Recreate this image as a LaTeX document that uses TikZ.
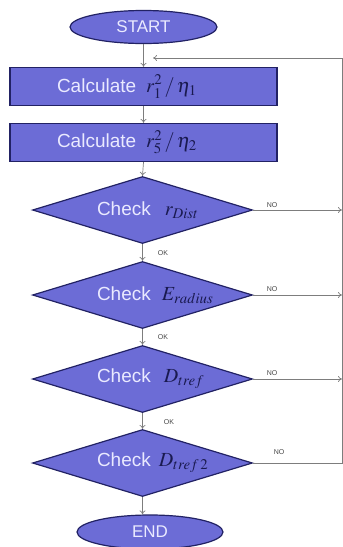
\documentclass[tikz,border=0pt]{standalone}
\usepackage{mathptmx}
\usepackage[no-math]{fontspec}
\setmainfont{Liberation Sans}
\usetikzlibrary{shapes.geometric,arrows.meta}

\definecolor{boxfill}{RGB}{108,108,214}
\definecolor{boxline}{RGB}{34,34,100}
\definecolor{boxtext}{RGB}{234,234,255}
\definecolor{mathink}{RGB}{26,26,80}
\definecolor{flowline}{RGB}{125,125,125}
\definecolor{tagink}{RGB}{70,70,70}

\tikzset{
  x=1pt, y=-1pt,
  terminal/.style={ellipse, draw=boxline, fill=boxfill, line width=1.2pt,
    text=boxtext, font=\fontsize{17}{17}\selectfont, inner sep=0pt},
  process/.style={rectangle, draw=boxline, fill=boxfill, line width=1.2pt,
    minimum width=267pt, minimum height=38pt, inner sep=0pt,
    text=boxtext, font=\fontsize{19}{19}\selectfont},
  decision/.style={diamond, aspect=3.3, draw=boxline, fill=boxfill, line width=1.2pt,
    minimum width=220pt, minimum height=67pt, inner sep=0pt,
    text=boxtext, font=\fontsize{19}{19}\selectfont},
  flow/.style={draw=flowline, line width=0.7pt, -{To[length=4pt,width=6pt]}},
  plainflow/.style={draw=flowline, line width=0.7pt},
  tag/.style={text=tagink, font=\fontsize{7}{7}\selectfont, inner sep=0pt},
}
% formula part of a box label, in dark ink
\newcommand{\mathpart}[1]{{\color{mathink}\fontsize{20}{20}\selectfont$#1$}}
% label that starts at a fixed left offset inside a box of given width
\newcommand{\leftlabel}[2]{\makebox[#1][l]{#2}}

\begin{document}
\begin{tikzpicture}
  \useasboundingbox (0,0) rectangle (343,547);

  % start / end terminals
  \node[terminal, minimum width=147pt, minimum height=33pt] (start) at (143.5,27) {START};

  % calculation steps
  \node[process] (calc1) at (143.5,86.5)
    {\leftlabel{173pt}{Calculate\hspace{10pt}\mathpart{r_1^2\,/\,\eta_1}}};
  \node[process] (calc2) at (143.5,142.5)
    {\leftlabel{173pt}{Calculate\hspace{10pt}\mathpart{r_5^2\,/\,\eta_2}}};

  % checks
  \node[decision] (chk1) at (142.5,210)
    {\leftlabel{91pt}{Check\hspace{14pt}\mathpart{r_{Dist}}}};
  \node[decision] (chk2) at (142.5,295)
    {\leftlabel{91pt}{Check\hspace{11pt}\mathpart{E_{radius}}}};
  \node[decision] (chk3) at (142.5,379)
    {\leftlabel{91pt}{Check\hspace{13pt}\mathpart{D_{tref}}}};
  \node[decision] (chk4) at (142.5,463)
    {\leftlabel{91pt}{Check\hspace{8pt}\mathpart{D_{tref\,2}}}};

  \node[terminal, minimum width=146pt, minimum height=34pt] (stop) at (150,532) {END};

  % main flow
  \draw[flow] (start.south -| calc1.north) -- (calc1.north);
  \draw[flow] (calc1) -- (calc2);
  \draw[flow] (calc2.south) -- (chk1.north);
  \draw[flow] (chk1) -- (chk2);
  \draw[flow] (chk2) -- (chk3);
  \draw[flow] (chk3) -- (chk4);
  \draw[flow] (chk4.south) -- (chk4.south |- stop.north);

  % return rail on the right
  \coordinate (rail1) at (342,210);
  \coordinate (rail2) at (342,295);
  \coordinate (rail3) at (342,379);
  \coordinate (railbot) at (342,463);
  \coordinate (railtop) at (342,58);
  \coordinate (reentry) at (153,58);

  \draw[flow] (chk1.east) -- (rail1);
  \draw[flow] (chk2.east) -- (rail2);
  \draw[flow] (chk3.east) -- (rail3);
  \draw[plainflow] (chk4.east) -- (railbot) -- (railtop);
  \draw[flow] (railtop) -- (reentry);

  % branch labels
  \node[tag] (no1) at (272,205) {NO};
  \node[tag] (no2) at (272,289) {NO};
  \node[tag] (no3) at (272,373) {NO};
  \node[tag] (no4) at (279,452) {NO};
  \node[tag] (ok1) at (163,253) {OK};
  \node[tag] (ok2) at (163,337) {OK};
  \node[tag] (ok3) at (169,422) {OK};
\end{tikzpicture}
\end{document}
